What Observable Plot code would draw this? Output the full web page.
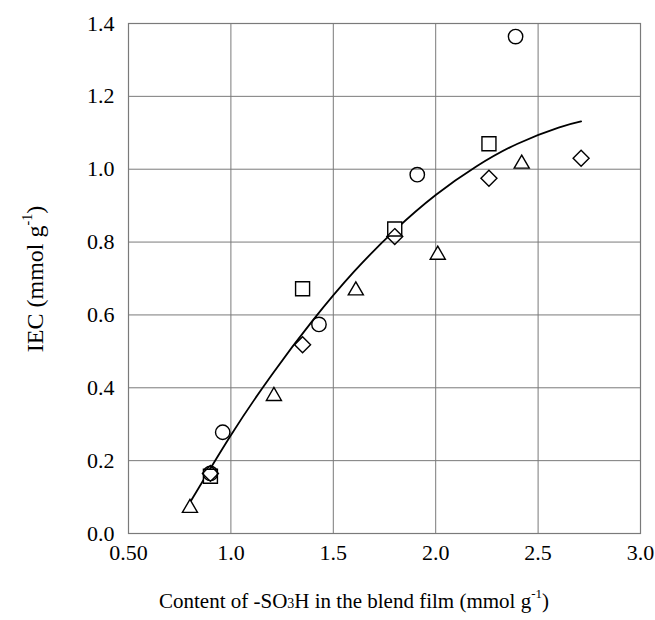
<!DOCTYPE html>
<html>
<head>
<meta charset="utf-8">
<script src="https://cdn.jsdelivr.net/npm/d3@7"></script>
<script src="https://cdn.jsdelivr.net/npm/@observablehq/plot@0.6"></script>
<style>
  html, body { margin: 0; padding: 0; background: #fff; }
  #chart svg { font-family: "Liberation Serif", "DejaVu Serif", serif; }
</style>
</head>
<body>
<div id="chart"></div>
<script>
// Series values
const circleX   = [0.90, 0.96, 1.43, 1.91, 2.39];
const circleY   = [0.165, 0.278, 0.574, 0.985, 1.364];
const squareX   = [0.90, 1.35, 1.80, 2.26];
const squareY   = [0.157, 0.672, 0.836, 1.070];
const diamondX  = [0.90, 1.35, 1.80, 2.26, 2.71];
const diamondY  = [0.165, 0.518, 0.815, 0.975, 1.030];
const triangleX = [0.80, 1.21, 1.61, 2.01, 2.42];
const triangleY = [0.070, 0.377, 0.667, 0.765, 1.015];
// Fitted curve
const curveX = [0.80, 1.0, 1.2, 1.4, 1.6, 1.8, 2.0, 2.2, 2.4, 2.6, 2.71];
const curveY = [0.085, 0.27, 0.436, 0.585, 0.718, 0.832, 0.929, 1.008, 1.070, 1.114, 1.131];
// Tick labels
const xTicks = [0.5, 1.0, 1.5, 2.0, 2.5, 3.0];
const xTickLabels = ["0.50", "1.0", "1.5", "2.0", "2.5", "3.0"];
const yTicks = [0, 0.2, 0.4, 0.6, 0.8, 1.0, 1.2, 1.4];
const yTickLabels = ["0.0", "0.2", "0.4", "0.6", "0.8", "1.0", "1.2", "1.4"];

const pts = (xs, ys) => xs.map((x, i) => ({x, y: ys[i]}));
const curve = pts(curveX, curveY);
const xFmt = d => xTickLabels[xTicks.findIndex(t => Math.abs(t - d) < 1e-9)];
const yFmt = d => yTickLabels[yTicks.findIndex(t => Math.abs(t - d) < 1e-9)];

const markOpts = {x: "x", y: "y", fill: "white", stroke: "black", strokeWidth: 1.4, r: 7.2};

const plot = Plot.plot({
  width: 655,
  height: 620,
  marginLeft: 128,
  marginRight: 15,
  marginTop: 23,
  marginBottom: 87,
  style: {fontFamily: "Liberation Serif, serif", fontSize: "22px", background: "white", color: "black"},
  x: {domain: [0.5, 3.0], label: null},
  y: {domain: [0, 1.4], label: null},
  marks: [
    Plot.gridX(xTicks, {stroke: "#7a7a7a", strokeOpacity: 1, strokeWidth: 1}),
    Plot.gridY(yTicks, {stroke: "#7a7a7a", strokeOpacity: 1, strokeWidth: 1}),
    Plot.frame({stroke: "#7a7a7a", strokeWidth: 1.2}),
    Plot.axisX(xTicks, {tickSize: 0, tickPadding: 11, fontSize: 22, tickFormat: xFmt, label: null}),
    Plot.axisY(yTicks, {tickSize: 0, tickPadding: 14, fontSize: 22, tickFormat: yFmt, label: null}),
    Plot.line(curve, {x: "x", y: "y", curve: "natural", stroke: "black", strokeWidth: 1.8}),
    Plot.dot(pts(triangleX, triangleY), {...markOpts, symbol: "triangle2"}),
    Plot.dot(pts(squareX, squareY), {...markOpts, symbol: "square", r: 7.9}),
    Plot.dot(pts(circleX, circleY), {...markOpts, fill: "none", symbol: "circle"}),
    Plot.dot(pts(diamondX, diamondY), {...markOpts, fill: "none", symbol: "diamond2"})
  ]
});

const svg = d3.select(plot);
// X axis title
const xt = svg.append("text")
  .attr("x", 354).attr("y", 608)
  .attr("text-anchor", "middle")
  .attr("font-size", 21)
  .attr("fill", "black");
xt.append("tspan").text("Content of -SO");
xt.append("tspan").attr("font-size", 14).text("3");
xt.append("tspan").text("H in the blend film (mmol g");
xt.append("tspan").attr("font-size", 13).attr("dy", -10).text("-1");
xt.append("tspan").attr("dy", 10).text(")");

// Y axis title
const yt = svg.append("text")
  .attr("transform", "translate(43,279) rotate(-90)")
  .attr("text-anchor", "middle")
  .attr("font-size", 24)
  .attr("fill", "black");
yt.append("tspan").text("IEC (mmol g");
yt.append("tspan").attr("font-size", 14).attr("dy", -11).text("-1");
yt.append("tspan").attr("dy", 11).text(")");

document.getElementById("chart").appendChild(plot);
</script>
</body>
</html>
